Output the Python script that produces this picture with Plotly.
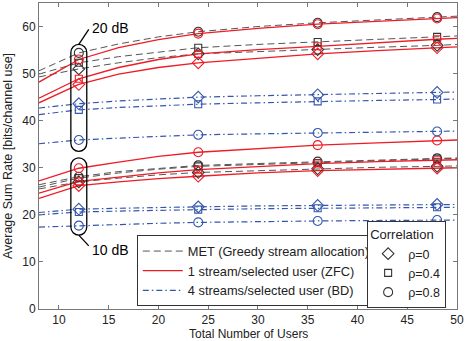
import plotly.graph_objects as go

# number of users where the curves were sampled
users = [8, 12, 16, 20, 24, 30, 36, 42, 48, 50]
marker_users = [12, 24, 36, 48]

# SNR = 20 dB
met_20 = {
    "0":   [49.3, 51.0, 52.3, 53.4, 54.2, 54.7, 55.1, 55.6, 56.0, 56.2],
    "0.4": [49.9, 52.3, 53.6, 54.6, 55.5, 56.2, 56.7, 57.3, 57.8, 58.0],
    "0.8": [50.6, 54.4, 56.3, 57.8, 58.9, 60.0, 60.8, 61.4, 62.0, 62.2],
}
zfc_20 = {
    "0":   [43.8, 47.7, 49.9, 51.3, 52.3, 53.3, 54.2, 54.9, 55.5, 55.7],
    "0.4": [44.8, 48.9, 51.3, 53.0, 54.2, 55.1, 55.8, 56.6, 57.3, 57.5],
    "0.8": [48.2, 53.0, 55.5, 57.2, 58.5, 59.6, 60.5, 61.1, 61.7, 61.9],
}
bd_20 = {
    "0":   [42.7, 43.6, 44.2, 44.6, 45.0, 45.3, 45.5, 45.8, 46.0, 46.1],
    "0.4": [41.3, 42.3, 42.8, 43.2, 43.5, 43.8, 44.1, 44.3, 44.5, 44.6],
    "0.8": [35.1, 35.9, 36.3, 36.7, 37.0, 37.2, 37.4, 37.6, 37.7, 37.8],
}

# SNR = 10 dB
met_10 = {
    "0":   [25.5, 27.0, 27.8, 28.5, 29.0, 29.4, 29.8, 30.1, 30.3, 30.4],
    "0.4": [25.9, 27.8, 28.9, 29.7, 30.3, 30.7, 31.0, 31.5, 31.9, 32.0],
    "0.8": [26.4, 28.1, 29.2, 29.9, 30.5, 30.9, 31.3, 31.7, 32.0, 32.1],
}
zfc_10 = {
    "0":   [23.5, 26.2, 27.0, 27.7, 28.2, 28.9, 29.4, 29.7, 29.9, 30.0],
    "0.4": [24.6, 27.1, 28.0, 28.9, 29.6, 30.3, 30.9, 31.3, 31.6, 31.7],
    "0.8": [27.2, 29.9, 31.2, 32.4, 33.3, 34.1, 34.8, 35.3, 35.8, 35.9],
}
bd_10 = {
    "0":   [20.5, 21.2, 21.4, 21.6, 21.7, 21.9, 22.0, 22.1, 22.2, 22.2],
    "0.4": [20.0, 20.6, 20.8, 21.0, 21.1, 21.3, 21.4, 21.5, 21.6, 21.6],
    "0.8": [17.4, 17.7, 18.0, 18.2, 18.4, 18.6, 18.7, 18.8, 18.9, 18.9],
}

rhos = ["0", "0.4", "0.8"]
symbols = {"0": "diamond-open", "0.4": "square-open", "0.8": "circle-open"}
sizes = {"0": 9, "0.4": 7, "0.8": 9}

GRAY = "#555555"
RED = "#ee1c25"
BLUE = "#3456ad"
FONT = "Liberation Sans, Arial, sans-serif"

schemes = [
    ("MET (Greedy stream allocation)", [met_20, met_10], GRAY, "7px,4px", 1.0),
    ("1 stream/selected user (ZFC)", [zfc_20, zfc_10], RED, "solid", 1.3),
    ("4 streams/selected user (BD)", [bd_20, bd_10], BLUE, "6px,3px,1.5px,3px", 1.2),
]

idx = [users.index(u) for u in marker_users]

fig = go.Figure()

# lines
for name, groups, color, dash, width in schemes:
    first = True
    for g in groups:
        for r in rhos:
            fig.add_trace(go.Scatter(
                x=users, y=g[r], mode="lines", name=name,
                line=dict(color=color, dash=dash, width=width),
                showlegend=first, legend="legend", hoverinfo="skip"))
            first = False

# markers
for name, groups, color, dash, width in schemes:
    mcol = "#333333" if color == GRAY else color
    for gi, g in enumerate(groups):
        for r in rhos:
            show = (color == GRAY and gi == 0)
            fig.add_trace(go.Scatter(
                x=marker_users, y=[g[r][i] for i in idx], mode="markers",
                name="\u03c1=" + r,
                marker=dict(symbol=symbols[r], size=sizes[r], color=mcol,
                            line=dict(color=mcol, width=1.1)),
                showlegend=show, legend="legend2", hoverinfo="skip"))


def stadium(xc, y0, y1, rx, ry):
    k = 0.5523
    xl, xr = xc - rx, xc + rx
    return (f"M {xl},{y0 + ry} L {xl},{y1 - ry} "
            f"C {xl},{y1 - ry + k * ry} {xc - k * rx},{y1} {xc},{y1} "
            f"C {xc + k * rx},{y1} {xr},{y1 - ry + k * ry} {xr},{y1 - ry} "
            f"L {xr},{y0 + ry} "
            f"C {xr},{y0 + ry - k * ry} {xc + k * rx},{y0} {xc},{y0} "
            f"C {xc - k * rx},{y0} {xl},{y0 + ry - k * ry} {xl},{y0 + ry} Z")


oval = dict(color="black", width=1.3)
fig.add_shape(type="path", path=stadium(12, 33.5, 56.2, 0.8, 1.7), line=oval)
fig.add_shape(type="path", path=stadium(12, 15.7, 32.1, 0.8, 1.7), line=oval)
fig.add_shape(type="line", x0=12, y0=56.2, x1=13.0, y1=59.4, line=oval)
fig.add_shape(type="line", x0=12, y0=15.7, x1=13.0, y1=13.4, line=oval)
fig.add_annotation(x=13.1, y=59.7, text="20 dB", showarrow=False,
                   xanchor="left", yanchor="middle",
                   font=dict(size=14, color="black", family=FONT))
fig.add_annotation(x=13.1, y=12.6, text="10 dB", showarrow=False,
                   xanchor="left", yanchor="middle",
                   font=dict(size=14, color="black", family=FONT))
# x-axis title
fig.add_annotation(x=0.5, y=-0.083, xref="paper", yref="paper",
                   text="Total Number of Users", showarrow=False,
                   xanchor="center", yanchor="middle",
                   font=dict(size=12, color="#222222", family=FONT))

axis = dict(showgrid=False, zeroline=False, showline=True, linecolor="#777777",
            linewidth=1, mirror="ticks", ticks="inside", ticklen=4,
            tickcolor="#777777", tickfont=dict(size=12, color="#222222"),
            title_font=dict(size=12.5, color="#222222"))

fig.update_layout(
    width=468, height=341,
    margin=dict(l=39, r=11, t=3, b=32),
    paper_bgcolor="white", plot_bgcolor="white",
    font=dict(family=FONT, color="#222222"),
    xaxis=dict(range=[8, 50], tickvals=[10, 15, 20, 25, 30, 35, 40, 45, 50], **axis),
    yaxis=dict(range=[0, 65], tickvals=[0, 10, 20, 30, 40, 50, 60],
               title=dict(text="Average Sum Rate [bits/channel use]", standoff=6), **axis),
    legend=dict(x=0.234, y=0.125, xanchor="left", yanchor="middle",
                bgcolor="white", bordercolor="#333333", borderwidth=1,
                font=dict(size=12.8, color="#222222"), itemwidth=40,
                tracegroupgap=0),
    legend2=dict(x=0.974, y=0.145, xanchor="right", yanchor="middle",
                 bgcolor="white", bordercolor="#333333", borderwidth=1,
                 font=dict(size=12.5, color="#222222"), itemwidth=30,
                 title=dict(text="Correlation", font=dict(size=13))),
    showlegend=True,
)

fig.write_html("out.html", config={"displayModeBar": False},
               post_script="document.body.style.margin='0';")
